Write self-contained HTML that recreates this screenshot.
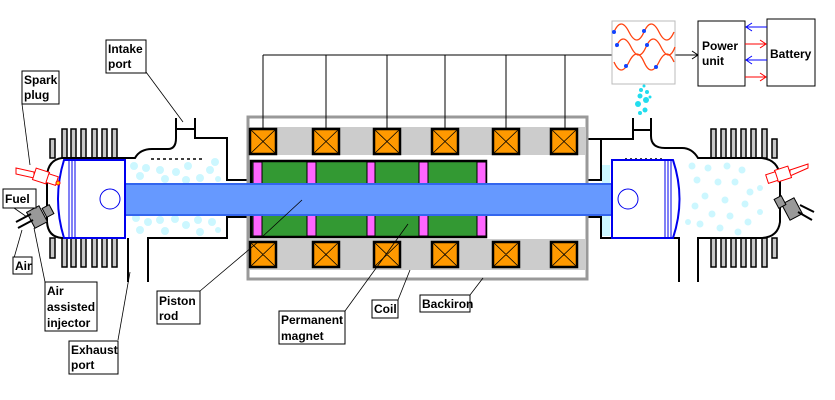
<!DOCTYPE html>
<html><head><meta charset="utf-8"><style>
html,body{margin:0;padding:0;background:#fff}
svg{display:block}
text{font-family:"Liberation Sans",sans-serif;font-weight:bold;font-size:12px;fill:#000}
</style></head><body>
<svg width="835" height="400" viewBox="0 0 835 400" xmlns="http://www.w3.org/2000/svg">
<!-- particles -->
<g fill="#ccf7ff">
<circle cx="134" cy="166" r="4"/><circle cx="146" cy="168" r="4"/><circle cx="140" cy="176" r="4"/><circle cx="160" cy="170" r="4"/><circle cx="176" cy="172" r="4"/><circle cx="188" cy="166" r="4"/><circle cx="200" cy="178" r="4"/><circle cx="210" cy="170" r="4"/><circle cx="215" cy="162" r="4"/><circle cx="165" cy="179" r="4"/><circle cx="186" cy="180" r="4"/><circle cx="218" cy="179" r="3"/>
<circle cx="136" cy="218" r="4"/><circle cx="148" cy="222" r="4"/><circle cx="140" cy="230" r="4"/><circle cx="160" cy="220" r="4"/><circle cx="175" cy="219" r="4"/><circle cx="186" cy="225" r="4"/><circle cx="198" cy="220" r="4"/><circle cx="212" cy="222" r="4"/><circle cx="165" cy="231" r="4"/><circle cx="200" cy="232" r="4"/><circle cx="218" cy="230" r="3"/>
<circle cx="692" cy="166" r="3.5"/><circle cx="708" cy="168" r="3.5"/><circle cx="727" cy="166" r="3.5"/><circle cx="742" cy="170" r="3.5"/><circle cx="697" cy="180" r="3.5"/><circle cx="718" cy="182" r="3.5"/><circle cx="735" cy="182" r="3.5"/><circle cx="750" cy="192" r="3.5"/><circle cx="705" cy="196" r="3.5"/><circle cx="725" cy="200" r="3.5"/><circle cx="695" cy="206" r="3.5"/><circle cx="745" cy="204" r="3.5"/><circle cx="712" cy="214" r="3.5"/><circle cx="730" cy="216" r="3.5"/><circle cx="748" cy="222" r="3.5"/><circle cx="700" cy="224" r="3.5"/><circle cx="720" cy="228" r="3.5"/><circle cx="738" cy="232" r="3.5"/><circle cx="688" cy="222" r="3"/><circle cx="760" cy="188" r="3"/><circle cx="760" cy="212" r="3"/>
<rect x="602" y="165" width="8" height="20"/><rect x="602" y="216" width="8" height="20"/>
</g>
<g fill="#22ddee">
<circle cx="640" cy="113" r="2"/><circle cx="645" cy="110" r="2.5"/><circle cx="638" cy="104" r="3"/><circle cx="646" cy="100" r="3"/><circle cx="640" cy="96" r="2.5"/><circle cx="647" cy="92" r="2"/><circle cx="641" cy="90" r="2"/><circle cx="644" cy="86" r="1.5"/><circle cx="650" cy="97" r="1.5"/>
</g>
<!-- fins -->
<g fill="#c8c8c8" stroke="#000" stroke-width="1.5">
<rect x="50" y="139" width="5" height="19"/><rect x="62" y="129" width="5" height="29"/><rect x="71" y="129" width="5" height="29"/><rect x="81" y="129" width="5" height="29"/><rect x="92" y="129" width="5" height="29"/><rect x="102" y="129" width="5" height="29"/><rect x="112" y="129" width="5" height="29"/>
<rect x="50" y="238" width="5" height="20"/><rect x="62" y="238" width="5" height="29"/><rect x="71" y="238" width="5" height="29"/><rect x="81" y="238" width="5" height="29"/><rect x="92" y="238" width="5" height="29"/><rect x="102" y="238" width="5" height="29"/><rect x="112" y="238" width="5" height="29"/>
<rect x="711" y="129" width="5" height="29"/><rect x="721" y="129" width="5" height="29"/><rect x="731" y="129" width="5" height="29"/><rect x="741" y="129" width="5" height="29"/><rect x="751" y="129" width="5" height="29"/><rect x="762" y="129" width="5" height="29"/><rect x="772" y="139" width="5" height="19"/>
<rect x="711" y="238" width="5" height="29"/><rect x="721" y="238" width="5" height="29"/><rect x="731" y="238" width="5" height="29"/><rect x="741" y="238" width="5" height="29"/><rect x="751" y="238" width="5" height="29"/><rect x="762" y="238" width="5" height="29"/><rect x="772" y="238" width="5" height="20"/>
</g>
<!-- engine outline -->
<g fill="none" stroke="#000" stroke-width="2">
<path d="M62,158 Q48,160 47,176 L47,222 Q48,237 62,238"/>
<path d="M62,158 L135,158 Q140,149 152,149 L168,149 Q176,149 176,138 L176,118"/>
<path d="M176,129 L195,129"/><path d="M195,118 L195,138 L227,138 L227,180 L247,180"/>
<path d="M62,238 L125,238"/><path d="M128,238 L128,282"/><path d="M148,282 L148,238 L227,238 L227,217 L247,217"/>
<path d="M762,158 Q778,160 780,176 L780,222 Q778,237 762,238"/>
<path d="M762,158 L698,158 Q692,148 682,148 L665,148 Q651,148 651,136 L651,118"/>
<path d="M633,130 L651,130"/><path d="M633,118 L633,139 L601,139 L601,180 L588,180"/>
<path d="M601,180 L581,180 L581,139 L601,139"/>
<path d="M762,238 L698,238 L698,282"/><path d="M679,282 L679,238 L601,238 L601,217 L581,217 L581,238"/>
</g>
<path d="M151,159 L202,159" stroke="#000" stroke-width="1.5" stroke-dasharray="3,3"/>
<path d="M625,159 L665,159" stroke="#000" stroke-width="1.5" stroke-dasharray="2,3"/>
<!-- stator -->
<rect x="248" y="117" width="339" height="162" fill="#fff" stroke="#999" stroke-width="3"/>
<rect x="249" y="127" width="336" height="28" fill="#ccc"/>
<rect x="249" y="239" width="336" height="31" fill="#ccc"/>
<g fill="#ff9900" stroke="#000" stroke-width="2.5">
<rect x="250" y="129" width="26" height="25"/><rect x="313" y="129" width="26" height="25"/><rect x="374" y="129" width="26" height="25"/><rect x="432" y="129" width="26" height="25"/><rect x="493" y="129" width="26" height="25"/><rect x="551" y="129" width="26" height="25"/>
<rect x="250" y="242" width="26" height="25"/><rect x="313" y="242" width="26" height="25"/><rect x="374" y="242" width="26" height="25"/><rect x="432" y="242" width="26" height="25"/><rect x="493" y="242" width="26" height="25"/><rect x="551" y="242" width="26" height="25"/>
</g>
<g stroke="#000" stroke-width="0.8">
<path d="M250,129 l26,25 M276,129 l-26,25 M313,129 l26,25 M339,129 l-26,25 M374,129 l26,25 M400,129 l-26,25 M432,129 l26,25 M458,129 l-26,25 M493,129 l26,25 M519,129 l-26,25 M551,129 l26,25 M577,129 l-26,25"/>
<path d="M250,242 l26,25 M276,242 l-26,25 M313,242 l26,25 M339,242 l-26,25 M374,242 l26,25 M400,242 l-26,25 M432,242 l26,25 M458,242 l-26,25 M493,242 l26,25 M519,242 l-26,25 M551,242 l26,25 M577,242 l-26,25"/>
</g>
<!-- magnets -->
<rect x="251" y="161" width="235" height="76" fill="#339933" stroke="#000" stroke-width="2.5"/>
<g fill="#ff66ff" stroke="#000" stroke-width="1">
<rect x="253" y="162" width="9" height="74"/><rect x="307" y="162" width="9" height="74"/><rect x="367" y="162" width="8" height="74"/><rect x="419" y="162" width="9" height="74"/><rect x="477" y="162" width="9" height="74"/>
</g>
<!-- rod -->
<rect x="120" y="184" width="496" height="31" fill="#6699ff" stroke="#3366ee" stroke-width="2"/>
<!-- pistons -->
<path d="M64,160 L125,160 L125,238 L64,238 Q52,199 64,160 Z" fill="#fff" stroke="#0000ee" stroke-width="2"/>
<path d="M69,161 L69,237 M72,161 L72,237 M75,161 L75,237" stroke="#0000ee" stroke-width="1"/>
<circle cx="110" cy="199" r="10" fill="none" stroke="#0000ee" stroke-width="1"/>
<path d="M612,160 L673,160 Q686,199 673,238 L612,238 Z" fill="#fff" stroke="#0000ee" stroke-width="2"/>
<path d="M665,161 L665,237 M668,161 L668,237 M671,161 L671,237" stroke="#0000ee" stroke-width="1"/>
<circle cx="628" cy="199" r="10" fill="none" stroke="#0000ee" stroke-width="1"/>
<!-- spark plugs / injectors -->
<g fill="#fff" stroke="#ff0000" stroke-width="1">
<path d="M16,168 L34,172 L34,178 L16,174 Z"/><rect x="34" y="170" width="14" height="12" transform="rotate(18 41 176)"/><rect x="47" y="175" width="10" height="9" transform="rotate(18 52 180)"/>
<path d="M808,164 L790,170 L790,176 L808,168 Z"/><rect x="776" y="168" width="14" height="12" transform="rotate(-18 783 174)"/><rect x="767" y="173" width="10" height="9" transform="rotate(-18 772 178)"/>
</g>
<circle cx="58" cy="183" r="2" fill="#ffcc00" stroke="#ff0000"/>
<g fill="#999" stroke="#000" stroke-width="1">
<rect x="30" y="208" width="14" height="18" transform="rotate(-28 37 217)"/><rect x="44" y="206" width="8" height="10" transform="rotate(-28 48 211)"/>
<rect x="785" y="200" width="14" height="18" transform="rotate(-28 792 209)"/><rect x="776" y="197" width="8" height="10" transform="rotate(-28 780 202)"/>
</g>
<path d="M16,222 L31,214 M18,228 L33,220" stroke="#000" stroke-width="2"/>
<path d="M800,205 L814,212 M798,212 L812,220" stroke="#000" stroke-width="2"/>
<!-- wiring -->
<g stroke="#000" stroke-width="1" fill="none">
<path d="M263,55 L612,55"/>
<path d="M263,55 V129 M326,55 V129 M387,55 V129 M445,55 V129 M506,55 V129 M565,55 V129"/>
<path d="M675,55 L698,55 M692,51 L698,55 L692,59"/>
</g>
<rect x="612" y="21" width="63" height="63" fill="#fff" stroke="#bbb"/>
<g fill="none" stroke="#ff4411" stroke-width="1.3">
<path d="M614,32 q7,-16 15,0 t15,0 t15,0 t15,0"/>
<path d="M616,47 q7,-16 15,0 t15,0 t15,0 t14,0"/>
<path d="M614,62 q7,16 15,0 t15,0 t15,0 t15,0" transform="translate(0,0)"/>
</g>
<g fill="#1144ff"><circle cx="614" cy="32" r="2"/><circle cx="644" cy="31" r="2"/><circle cx="617" cy="45" r="2"/><circle cx="647" cy="45" r="2"/><circle cx="626" cy="66" r="2"/><circle cx="656" cy="67" r="2"/></g>
<rect x="698" y="21" width="47" height="65" fill="#fff" stroke="#000"/>
<rect x="767" y="19" width="48" height="67" fill="#fff" stroke="#000"/>
<text x="702" y="50">Power</text><text x="702" y="65">unit</text>
<text x="770" y="58">Battery</text>
<g fill="none" stroke-width="1">
<path d="M767,27 L746,27 M752,23 L746,27 L752,31" stroke="#0000ff"/>
<path d="M767,60 L746,60 M752,56 L746,60 L752,64" stroke="#0000ff"/>
<path d="M745,44 L766,44 M760,40 L766,44 L760,48" stroke="#ff0000"/>
<path d="M745,77 L766,77 M760,73 L766,77 L760,81" stroke="#ff0000"/>
</g>
<!-- label leaders -->
<g stroke="#000" stroke-width="0.8" fill="none">
<path d="M146,72 L183,122"/><path d="M22,104 L30,165"/><path d="M14,208 L27,217"/><path d="M14,258 L22,230"/>
<path d="M45,282 L34,228"/><path d="M118,340 L130,272"/><path d="M200,291 L258,242 M262,237 L302,200"/>
<path d="M345,311 L408,224"/><path d="M398,300 L410,270"/><path d="M470,295 L483,278"/>
</g>
<!-- labels -->
<g fill="#fff" stroke="#000" stroke-width="1">
<rect x="106" y="40" width="40" height="33"/><rect x="22" y="71" width="37" height="33"/>
<rect x="3" y="189" width="33" height="19"/><rect x="13" y="257" width="19" height="17"/>
<rect x="45" y="282" width="52" height="49"/><rect x="69" y="341" width="49" height="33"/>
<rect x="157" y="291" width="43" height="33"/><rect x="279" y="311" width="66" height="33"/>
<rect x="372" y="300" width="26" height="18"/><rect x="420" y="295" width="50" height="17"/>
</g>
<text x="108" y="53">Intake</text><text x="108" y="68">port</text>
<text x="24" y="84">Spark</text><text x="24" y="99">plug</text>
<text x="5" y="203">Fuel</text><text x="15" y="270">Air</text>
<text x="47" y="295">Air</text><text x="47" y="311">assisted</text><text x="47" y="327">injector</text>
<text x="71" y="354">Exhaust</text><text x="71" y="369">port</text>
<text x="159" y="305">Piston</text><text x="159" y="320">rod</text>
<text x="281" y="324">Permanent</text><text x="281" y="340">magnet</text>
<text x="374" y="313">Coil</text><text x="422" y="308">Backiron</text>
</svg>
</body></html>
